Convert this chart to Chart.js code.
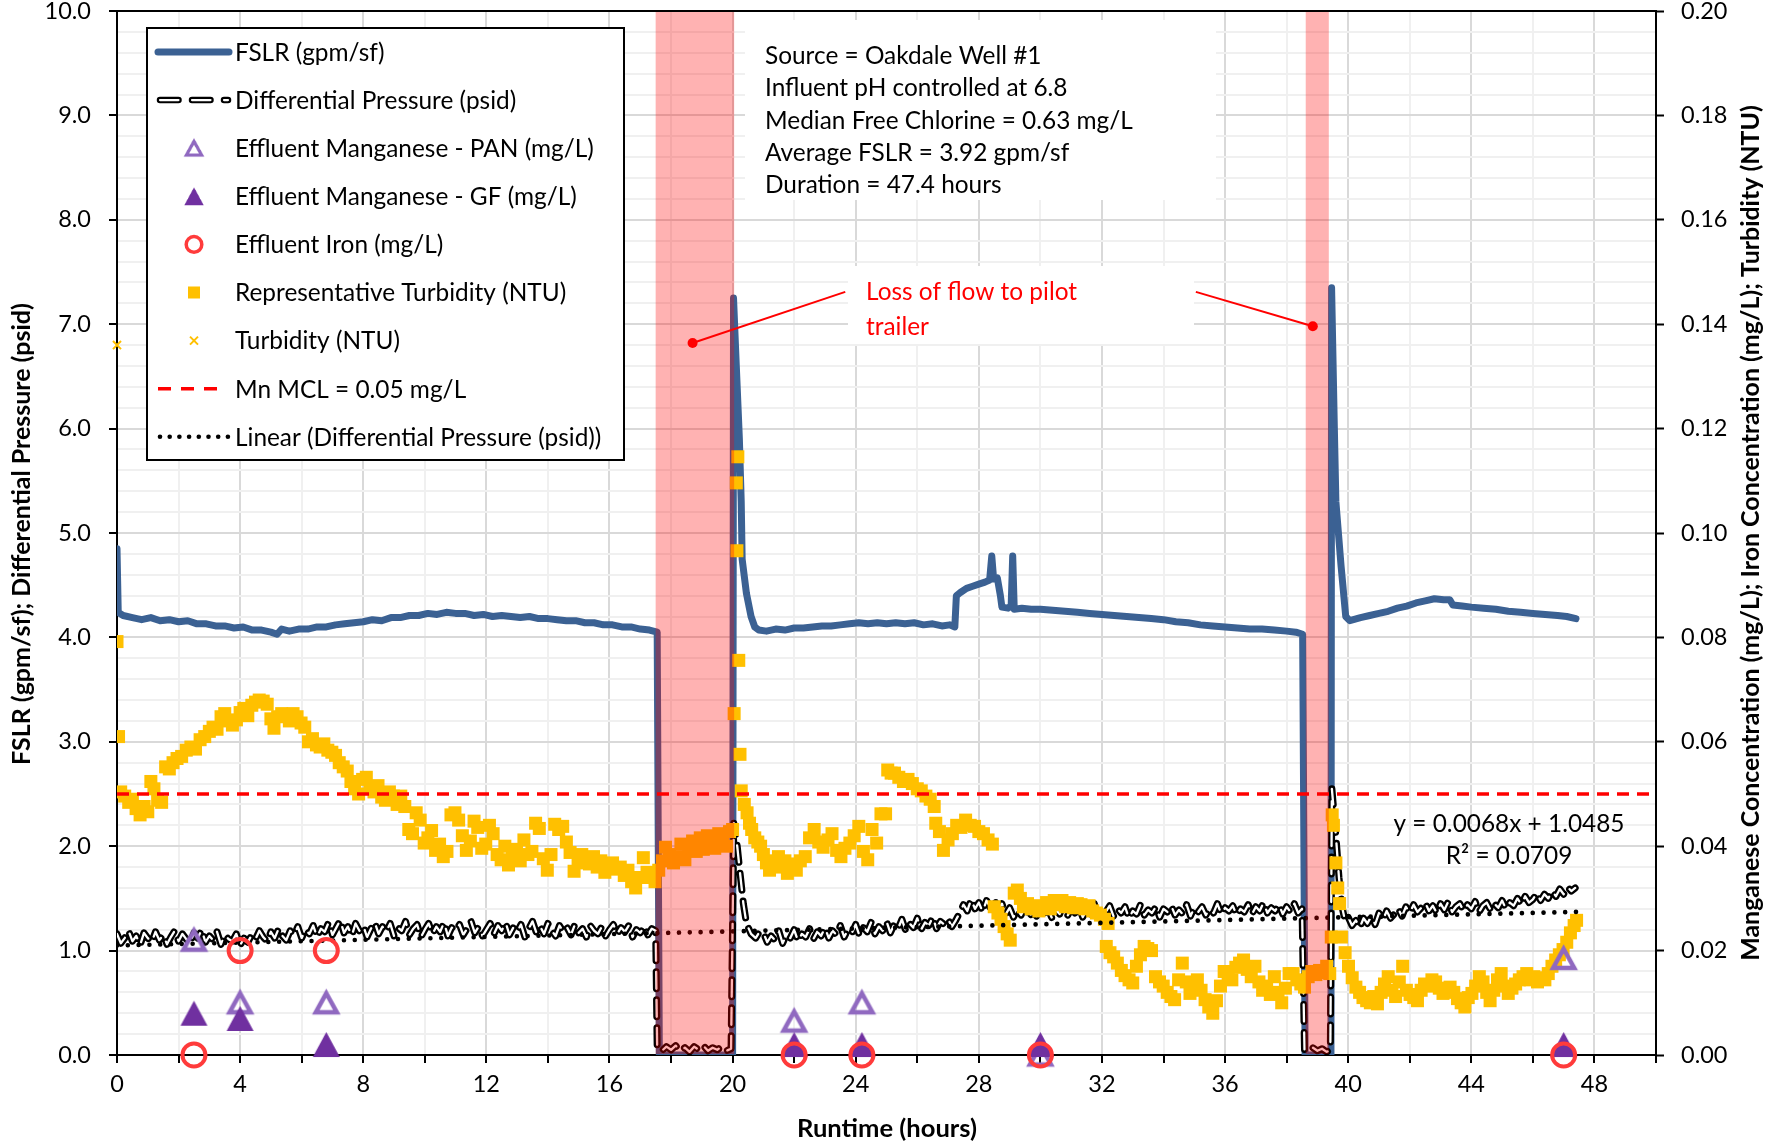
<!DOCTYPE html>
<html lang="en">
<head>
<meta charset="utf-8">
<title>Filter run – Oakdale Well #1</title>
<script src="https://cdn.jsdelivr.net/npm/chart.js@4.4.1/dist/chart.umd.min.js"></script>
<style>
  html, body { margin: 0; padding: 0; background: #ffffff; }
  #wrap { width: 1769px; height: 1147px; }
  canvas { display: block; }
</style>
</head>
<body>
<div id="wrap"><canvas id="runChart" width="1769" height="1147"></canvas></div>
<script>
// ---------------------------------------------------------------------------
// Run data
// ---------------------------------------------------------------------------

// Filter surface loading rate, gpm/sf
const fslrHours = [
  0, 0.04, 0.2, 0.5, 0.8, 1.1, 1.4, 1.7, 2.0, 2.3,
  2.6, 2.9, 3.2, 3.5, 3.8, 4.1, 4.4, 4.7, 5.0, 5.2,
  5.35, 5.6, 5.9, 6.2, 6.5, 6.8, 7.1, 7.4, 7.7, 8.0,
  8.3, 8.6, 8.9, 9.2, 9.5, 9.8, 10.1, 10.4, 10.7, 11.0,
  11.3, 11.6, 11.9, 12.2, 12.5, 12.8, 13.1, 13.4, 13.7, 14.0,
  14.3, 14.6, 14.9, 15.2, 15.5, 15.8, 16.1, 16.4, 16.7, 17.0,
  17.3, 17.55, 17.62, 18.8, 20.0, 20.03, 20.12, 20.22, 20.28, 20.31,
  20.45, 20.6, 20.72, 20.85, 21.1, 21.4, 21.7, 22.0, 22.3, 22.6,
  22.9, 23.2, 23.5, 23.8, 24.1, 24.4, 24.7, 25.0, 25.3, 25.6,
  25.9, 26.2, 26.5, 26.8, 27.05, 27.22, 27.27, 27.4, 27.6, 27.8,
  28.0, 28.2, 28.35, 28.42, 28.48, 28.6, 28.7, 28.75, 28.95, 29.05,
  29.1, 29.15, 29.4, 29.7, 30.0, 30.4, 30.8, 31.2, 31.6, 32.0,
  32.4, 32.8, 33.2, 33.6, 34.0, 34.4, 34.8, 35.2, 35.6, 36.0,
  36.4, 36.8, 37.2, 37.6, 38.0, 38.3, 38.52, 38.6, 39.0, 39.44,
  39.46, 39.55, 39.6, 39.77, 39.92, 40.05, 40.4, 40.7, 41.0, 41.3,
  41.6, 41.9, 42.2, 42.5, 42.8, 43.1, 43.3, 43.4, 43.7, 44.0,
  44.4, 44.8, 45.2, 45.6, 46.0, 46.4, 46.8, 47.1, 47.4
];
const fslrRate = [
  4.85, 4.24, 4.21, 4.19, 4.17, 4.19, 4.16, 4.17, 4.15, 4.16,
  4.13, 4.13, 4.11, 4.11, 4.09, 4.10, 4.07, 4.07, 4.05, 4.03,
  4.08, 4.06, 4.08, 4.08, 4.10, 4.10, 4.12, 4.13, 4.14, 4.15,
  4.17, 4.16, 4.19, 4.19, 4.21, 4.21, 4.23, 4.22, 4.24, 4.23,
  4.23, 4.21, 4.22, 4.20, 4.21, 4.20, 4.19, 4.20, 4.18, 4.18,
  4.17, 4.16, 4.16, 4.14, 4.14, 4.12, 4.12, 4.10, 4.10, 4.08,
  4.07, 4.05, 0, 0, 0, 7.25, 6.6, 5.9, 5.3, 4.75,
  4.42, 4.20, 4.10, 4.07, 4.06, 4.08, 4.07, 4.09, 4.09, 4.10,
  4.11, 4.11, 4.12, 4.13, 4.14, 4.13, 4.14, 4.13, 4.14, 4.13,
  4.14, 4.12, 4.13, 4.11, 4.12, 4.10, 4.40, 4.43, 4.47, 4.49,
  4.51, 4.53, 4.55, 4.78, 4.56, 4.57, 4.40, 4.29, 4.28, 4.30,
  4.78, 4.27, 4.28, 4.27, 4.27, 4.26, 4.25, 4.24, 4.23, 4.22,
  4.21, 4.20, 4.19, 4.18, 4.17, 4.15, 4.14, 4.12, 4.11, 4.10,
  4.09, 4.08, 4.08, 4.07, 4.06, 4.05, 4.03, 0, 0, 0,
  7.35, 6.0, 5.3, 4.68, 4.20, 4.16, 4.19, 4.21, 4.23, 4.25,
  4.28, 4.30, 4.33, 4.35, 4.37, 4.36, 4.36, 4.31, 4.30, 4.29,
  4.28, 4.27, 4.25, 4.24, 4.23, 4.22, 4.21, 4.20, 4.18
];

// Differential pressure, psid.
// Steady filtration stretches are logged every dpLogStep hours from the
// given start hour; the stops and restarts are listed point by point.
const dpLogStep = 0.125;
const dpRun1Start = 0;
const dpRun1 = [
  1.16, 1.07, 1.12, 1.19, 1.09, 1.14, 1.05, 1.17, 1.12, 1.08,
  1.18, 1.10, 1.15, 1.06, 1.13, 1.19, 1.09, 1.16, 1.11, 1.07,
  1.17, 1.12, 1.20, 1.08, 1.14, 1.10, 1.18, 1.06, 1.15, 1.11,
  1.09, 1.16, 1.05, 1.12, 1.08, 1.15, 1.11, 1.19, 1.13, 1.09,
  1.18, 1.12, 1.21, 1.14, 1.10, 1.19, 1.15, 1.23, 1.12, 1.20,
  1.16, 1.24, 1.13, 1.21, 1.18, 1.27, 1.15, 1.22, 1.29, 1.17,
  1.23, 1.14, 1.26, 1.19, 1.24, 1.13, 1.21, 1.27, 1.16, 1.23,
  1.18, 1.26, 1.14, 1.22, 1.19, 1.28, 1.15, 1.21, 1.25, 1.13,
  1.20, 1.26, 1.16, 1.23, 1.18, 1.27, 1.14, 1.22, 1.19, 1.25,
  1.15, 1.21, 1.28, 1.17, 1.23, 1.14, 1.20, 1.26, 1.16, 1.24,
  1.19, 1.27, 1.15, 1.22, 1.18, 1.25, 1.13, 1.21, 1.28, 1.17,
  1.23, 1.16, 1.26, 1.19, 1.14, 1.24, 1.18, 1.22, 1.15, 1.25,
  1.17, 1.21, 1.13, 1.24, 1.19, 1.16, 1.23, 1.14, 1.20, 1.25,
  1.16, 1.22, 1.18, 1.24, 1.13, 1.20, 1.17, 1.23, 1.15, 1.21,
  1.19
];
const dpStop1Hours = [
  17.55, 17.7, 17.85, 18.0, 18.15, 18.3, 18.45, 18.6, 18.75, 18.9,
  19.05, 19.2, 19.35, 19.5, 19.65, 19.8, 19.95, 20.04, 20.15, 20.25,
  20.35, 20.45, 20.6, 20.75, 20.875
];
const dpStop1 = [
  0.06, 0.04, 0.08, 0.05, 0.09, 0.04, 0.07, 0.03, 0.08, 0.05,
  0.09, 0.04, 0.07, 0.05, 0.08, 0.04, 0.06, 2.22, 2.00, 1.72,
  1.45, 1.26, 1.16, 1.12, 1.18
];
const dpRun2Start = 21.0;
const dpRun2 = [
  1.17, 1.08, 1.14, 1.10, 1.19, 1.07, 1.15, 1.12, 1.20, 1.09,
  1.16, 1.13, 1.21, 1.11, 1.18, 1.14, 1.22, 1.12, 1.19, 1.15,
  1.24, 1.13, 1.20, 1.17, 1.25, 1.14, 1.22, 1.18, 1.27, 1.16,
  1.23, 1.19, 1.28, 1.17, 1.25, 1.21, 1.30, 1.19, 1.26, 1.22,
  1.31, 1.20, 1.27, 1.24, 1.32, 1.21, 1.28, 1.25, 1.30, 1.23,
  1.29, 1.36, 1.44, 1.38, 1.49, 1.40, 1.46, 1.37, 1.48, 1.41,
  1.50, 1.39, 1.45, 1.35, 1.41, 1.32, 1.39, 1.34, 1.42, 1.31,
  1.38, 1.33, 1.43, 1.36, 1.40, 1.31, 1.39, 1.35, 1.44, 1.33,
  1.40, 1.36, 1.42, 1.32, 1.39, 1.35, 1.45, 1.34, 1.41, 1.37,
  1.43, 1.33, 1.40, 1.36, 1.42, 1.31, 1.38, 1.35, 1.44, 1.34,
  1.39, 1.36, 1.42, 1.32, 1.40, 1.37, 1.43, 1.34, 1.39, 1.35,
  1.44, 1.33, 1.41, 1.37, 1.42, 1.34, 1.40, 1.36, 1.45, 1.35,
  1.41, 1.38, 1.43, 1.34, 1.40, 1.37, 1.44, 1.35, 1.42, 1.38,
  1.46, 1.36, 1.41, 1.38, 1.44, 1.35, 1.42, 1.37, 1.45, 1.36,
  1.40
];
const dpStop2Hours = [38.58, 38.7, 38.85, 39.0, 39.15, 39.3, 39.42, 39.47, 39.6, 39.7, 39.8, 39.9];
const dpStop2 = [0.05, 0.03, 0.07, 0.04, 0.06, 0.03, 0.05, 2.55, 2.10, 1.70, 1.42, 1.28];
const dpRun3Start = 40.0;
const dpRun3 = [
  1.32, 1.24, 1.29, 1.22, 1.31, 1.26, 1.33, 1.25, 1.36, 1.29,
  1.38, 1.31, 1.35, 1.40, 1.33, 1.42, 1.36, 1.44, 1.37, 1.41,
  1.46, 1.38, 1.43, 1.36, 1.45, 1.39, 1.47, 1.37, 1.42, 1.45,
  1.38, 1.44, 1.40, 1.47, 1.37, 1.43, 1.46, 1.39, 1.45, 1.41,
  1.48, 1.40, 1.46, 1.43, 1.50, 1.44, 1.52, 1.46, 1.49, 1.55,
  1.48, 1.54, 1.50, 1.57, 1.52, 1.59, 1.54, 1.61, 1.57, 1.60
];

// Representative effluent turbidity, NTU
const turbHours = [
  0.00, 0.05, 0.12, 0.25, 0.38, 0.50, 0.62, 0.75, 0.88, 1.00,
  1.10, 1.20, 1.32, 1.45, 1.58, 1.70, 1.82, 1.95, 2.10, 2.25,
  2.40, 2.55, 2.70, 2.85, 3.00, 3.12, 3.25, 3.38, 3.50, 3.62,
  3.75, 3.88, 4.00, 4.12, 4.25, 4.38, 4.50, 4.62, 4.75, 4.88,
  5.00, 5.10, 5.22, 5.35, 5.48, 5.60, 5.72, 5.85, 5.98, 6.10,
  6.22, 6.35, 6.48, 6.60, 6.72, 6.85, 6.98, 7.10, 7.22, 7.35,
  7.48, 7.60, 7.72, 7.85, 7.98, 8.10, 8.22, 8.35, 8.48, 8.60,
  8.72, 8.85, 8.98, 9.10, 9.22, 9.35, 9.48, 9.60, 9.72, 9.85,
  9.98, 10.10, 10.22, 10.35, 10.48, 10.60, 10.72, 10.85, 10.98, 11.10,
  11.22, 11.35, 11.48, 11.60, 11.72, 11.85, 11.98, 12.10, 12.22, 12.35,
  12.48, 12.60, 12.72, 12.85, 12.98, 13.10, 13.22, 13.35, 13.48, 13.60,
  13.72, 13.85, 13.98, 14.10, 14.22, 14.35, 14.48, 14.60, 14.72, 14.85,
  14.98, 15.10, 15.22, 15.35, 15.48, 15.60, 15.72, 15.85, 15.98, 16.10,
  16.22, 16.35, 16.48, 16.60, 16.72, 16.85, 16.98, 17.10, 17.22, 17.35,
  17.48,
  17.60, 17.72, 17.82, 17.95, 18.08, 18.20, 18.32, 18.45, 18.58, 18.70,
  18.82, 18.95, 19.05, 19.18, 19.30, 19.42, 19.55, 19.68, 19.80, 19.90,
  20.00,
  20.05, 20.12, 20.14, 20.17, 20.20, 20.24, 20.28,
  20.38, 20.47, 20.55, 20.62, 20.72, 20.82, 20.91, 21.00, 21.10, 21.20,
  21.30, 21.40, 21.49, 21.60, 21.70, 21.78, 21.90, 22.00, 22.07, 22.20,
  22.36, 22.50, 22.65, 22.80, 22.94, 23.10, 23.23, 23.38, 23.52, 23.65,
  23.81, 23.95, 24.10, 24.25, 24.39, 24.53, 24.68, 24.82, 24.97, 25.04,
  25.15, 25.26, 25.40, 25.55, 25.70, 25.84, 26.00, 26.13, 26.28, 26.42,
  26.55, 26.60, 26.72, 26.85, 27.00, 27.14, 27.28, 27.42, 27.57, 27.72,
  27.86, 28.00, 28.15, 28.30, 28.44,
  28.50, 28.62, 28.72, 28.82, 28.92, 29.02, 29.15, 29.25, 29.35, 29.45,
  29.58, 29.70, 29.82, 29.95, 30.08, 30.20, 30.32, 30.45, 30.58, 30.70,
  30.82, 30.95, 31.08, 31.20, 31.32, 31.45, 31.58, 31.70, 31.82, 31.95,
  32.08, 32.20,
  32.14, 32.26, 32.38, 32.50, 32.63, 32.75, 32.88, 33.00, 33.12, 33.25,
  33.37, 33.49, 33.61, 33.74, 33.87, 33.99, 34.12, 34.24, 34.36, 34.49,
  34.61, 34.74, 34.86, 34.98, 35.10, 35.22, 35.35, 35.47, 35.60, 35.72,
  35.85, 35.97, 36.10, 36.22, 36.35, 36.47, 36.60, 36.72, 36.85, 36.97,
  37.10, 37.22, 37.35, 37.47, 37.60, 37.72, 37.84, 37.96, 38.08, 38.21,
  38.33, 38.46, 38.58,
  38.70, 38.82, 38.95, 39.07, 39.18, 39.30, 39.40,
  39.45, 39.48, 39.52, 39.60, 39.66, 39.72, 39.78, 39.90, 40.01, 40.13,
  40.25, 40.37, 40.48, 40.60, 40.72, 40.83, 40.95, 41.07, 41.18, 41.30,
  41.42, 41.54, 41.66, 41.77, 41.89, 42.01, 42.13, 42.25, 42.37, 42.48,
  42.60, 42.72, 42.84, 42.96, 43.08, 43.20, 43.31, 43.43, 43.55, 43.67,
  43.79, 43.90, 44.02, 44.14, 44.26, 44.38, 44.50, 44.61, 44.73, 44.85,
  44.97, 45.09, 45.20, 45.32, 45.44, 45.56, 45.68, 45.80, 45.91, 46.03,
  46.15, 46.27, 46.39, 46.50, 46.62, 46.74, 46.86, 46.98, 47.10, 47.22,
  47.34, 47.42
];
const turbNtu = [
  0.0792, 0.0610, 0.0504, 0.0496, 0.0484, 0.0490, 0.0472, 0.0460, 0.0476, 0.0466,
  0.0524, 0.0510, 0.0488, 0.0484, 0.0552, 0.0548, 0.0560, 0.0568, 0.0572, 0.0584,
  0.0590, 0.0586, 0.0604, 0.0610, 0.0620, 0.0628, 0.0624, 0.0648, 0.0654, 0.0640,
  0.0632, 0.0642, 0.0656, 0.0664, 0.0650, 0.0670, 0.0676, 0.0680, 0.0678, 0.0672,
  0.0644, 0.0626, 0.0648, 0.0654, 0.0650, 0.0640, 0.0654, 0.0648, 0.0636, 0.0628,
  0.0600, 0.0606, 0.0594, 0.0590, 0.0596, 0.0584, 0.0580, 0.0574, 0.0560, 0.0552,
  0.0544, 0.0524, 0.0510, 0.0500, 0.0528, 0.0532, 0.0512, 0.0504, 0.0516, 0.0494,
  0.0488, 0.0504, 0.0496, 0.0480, 0.0496, 0.0476, 0.0432, 0.0424, 0.0464, 0.0450,
  0.0406, 0.0416, 0.0430, 0.0392, 0.0404, 0.0380, 0.0390, 0.0460, 0.0464, 0.0450,
  0.0420, 0.0392, 0.0410, 0.0448, 0.0436, 0.0396, 0.0404, 0.0440, 0.0424, 0.0384,
  0.0374, 0.0400, 0.0364, 0.0380, 0.0394, 0.0372, 0.0412, 0.0384, 0.0390, 0.0444,
  0.0434, 0.0376, 0.0354, 0.0384, 0.0442, 0.0432, 0.0438, 0.0408, 0.0388, 0.0352,
  0.0368, 0.0384, 0.0374, 0.0366, 0.0380, 0.0360, 0.0372, 0.0350, 0.0364, 0.0368,
  0.0356, 0.0360, 0.0344, 0.0354, 0.0332, 0.0320, 0.0340, 0.0378, 0.0350, 0.0340,
  0.0332,
  0.0354, 0.0372, 0.0398, 0.0384, 0.0368, 0.0380, 0.0404, 0.0374, 0.0392, 0.0410,
  0.0390, 0.0416, 0.0394, 0.0420, 0.0408, 0.0396, 0.0424, 0.0412, 0.0400, 0.0428,
  0.0432,
  0.0654, 0.1096, 0.0966, 0.1146, 0.0756, 0.0576, 0.0506,
  0.0480, 0.0464, 0.0444, 0.0432, 0.0416, 0.0408, 0.0400, 0.0384, 0.0368, 0.0354,
  0.0372, 0.0364, 0.0380, 0.0360, 0.0372, 0.0348, 0.0366, 0.0358, 0.0354, 0.0372,
  0.0380, 0.0416, 0.0432, 0.0408, 0.0398, 0.0412, 0.0424, 0.0392, 0.0380, 0.0396,
  0.0406, 0.0420, 0.0438, 0.0390, 0.0374, 0.0432, 0.0406, 0.0462, 0.0462, 0.0546,
  0.0540, 0.0540, 0.0532, 0.0524, 0.0528, 0.0520, 0.0510, 0.0506, 0.0496, 0.0490,
  0.0476, 0.0444, 0.0428, 0.0392, 0.0412, 0.0424, 0.0440, 0.0436, 0.0450, 0.0440,
  0.0438, 0.0428, 0.0424, 0.0412, 0.0404,
  0.0284, 0.0272, 0.0260, 0.0246, 0.0232, 0.0220, 0.0310, 0.0316, 0.0300, 0.0284,
  0.0290, 0.0280, 0.0286, 0.0276, 0.0284, 0.0292, 0.0280, 0.0296, 0.0288, 0.0296,
  0.0284, 0.0292, 0.0282, 0.0290, 0.0288, 0.0280, 0.0286, 0.0276, 0.0272, 0.0268,
  0.0260, 0.0252,
  0.0208, 0.0196, 0.0188, 0.0176, 0.0162, 0.0152, 0.0144, 0.0138, 0.0170, 0.0192,
  0.0208, 0.0204, 0.0200, 0.0150, 0.0140, 0.0132, 0.0120, 0.0112, 0.0106, 0.0144,
  0.0176, 0.0140, 0.0118, 0.0132, 0.0144, 0.0124, 0.0106, 0.0092, 0.0080, 0.0104,
  0.0132, 0.0160, 0.0156, 0.0144, 0.0168, 0.0176, 0.0182, 0.0164, 0.0150, 0.0170,
  0.0140, 0.0124, 0.0132, 0.0116, 0.0150, 0.0120, 0.0100, 0.0128, 0.0156, 0.0156,
  0.0144, 0.0136, 0.0130,
  0.0150, 0.0160, 0.0154, 0.0162, 0.0158, 0.0170, 0.0156,
  0.0226, 0.0460, 0.0440, 0.0368, 0.0320, 0.0290, 0.0226, 0.0196, 0.0170, 0.0148,
  0.0130, 0.0120, 0.0110, 0.0104, 0.0100, 0.0112, 0.0098, 0.0120, 0.0136, 0.0150,
  0.0124, 0.0112, 0.0140, 0.0170, 0.0124, 0.0116, 0.0110, 0.0104, 0.0124, 0.0136,
  0.0132, 0.0144, 0.0140, 0.0128, 0.0118, 0.0124, 0.0130, 0.0120, 0.0108, 0.0100,
  0.0092, 0.0110, 0.0118, 0.0132, 0.0150, 0.0140, 0.0120, 0.0104, 0.0124, 0.0144,
  0.0156, 0.0132, 0.0118, 0.0128, 0.0136, 0.0144, 0.0150, 0.0156, 0.0144, 0.0150,
  0.0140, 0.0148, 0.0144, 0.0156, 0.0170, 0.0182, 0.0192, 0.0202, 0.0216, 0.0234,
  0.0248, 0.0258
];

// Raw turbidity reading shown on its own
const turbSpotHours = [0.0];
const turbSpotNtu = [0.136];

// Grab samples, mg/L
const sampleHours = [2.5, 4.0, 6.8, 22.0, 24.2, 30.0, 47.0];
const mnPan = [0.022, 0.010, 0.010, 0.0065, 0.010, 0.000, 0.0185];
const mnGf = [0.008, 0.007, 0.002, 0.002, 0.002, 0.002, 0.002];
const feTotal = [0.000, 0.020, 0.020, 0.000, 0.000, 0.000, 0.000];

// Manganese MCL, mg/L, drawn across the runtime axis
const mnMcl = 0.05;
const mclHours = [0, 50];

// Linear fit of differential pressure
const trendSlope = 0.0068;
const trendIntercept = 1.0485;
const trendR2 = 0.0709;
const trendHours = [0, 47.4];

// Periods with no flow to the pilot trailer (hours)
const outageWindows = [[17.5, 20.05], [38.62, 39.37]];

// Axis setup
const hourMax = 50, hourStep = 2, hourLabelStep = 4, hourLabelMax = 48;
const leftMax = 10, leftStep = 0.2;
const rightMax = 0.2, rightStep = 0.02;

const runNotes = [
  'Source = Oakdale Well #1',
  'Influent pH controlled at 6.8',
  'Median Free Chlorine = 0.63 mg/L',
  'Average FSLR = 3.92 gpm/sf',
  'Duration = 47.4 hours'
];
const outageNote = ['Loss of flow to pilot', 'trailer'];

const legendLabels = [
  'FSLR (gpm/sf)',
  'Differential Pressure (psid)',
  'Effluent Manganese - PAN (mg/L)',
  'Effluent Manganese - GF (mg/L)',
  'Effluent Iron (mg/L)',
  'Representative Turbidity (NTU)',
  'Turbidity (NTU)',
  'Mn MCL = 0.05 mg/L',
  'Linear (Differential Pressure (psid))'
];

const titleLeft = 'FSLR (gpm/sf); Differential Pressure (psid)';
const titleRight = 'Manganese Concentration (mg/L); Iron Concentration (mg/L); Turbidity (NTU)';
const titleBottom = 'Runtime (hours)';

// ---------------------------------------------------------------------------
// Styling
// ---------------------------------------------------------------------------
const FONT = 'Lato';
const TICK_PX = 23.5;
const BLUE = '#3B6193';
const YELLOW = '#FFC000';
const PAN_PURPLE = '#9069C0';
const GF_PURPLE = '#7030A0';
const IRON_RED = '#FF3B3B';
const GRID_MAJOR = '#D9D9D9';
const GRID_MINOR = '#F0F0F0';
const DP_DASH = [17, 11];

const pts = (xs, ys) => xs.map((x, i) => ({ x, y: ys[i] }));
const logged = (start, values) => values.map((v, i) => ({ x: start + i * dpLogStep, y: v }));
const isWhole = v => Math.abs(v - Math.round(v)) < 1e-6;

function triangleMarker(w, h, fill, stroke, lw) {
  const pad = (lw || 0) * 2 + 2;
  const c = document.createElement('canvas');
  c.width = Math.ceil(w + 2 * pad);
  c.height = Math.ceil(h + 2 * pad);
  const g = c.getContext('2d');
  const cx = c.width / 2, cy = c.height / 2;
  g.beginPath();
  g.moveTo(cx, cy - h / 2);
  g.lineTo(cx + w / 2, cy + h / 2);
  g.lineTo(cx - w / 2, cy + h / 2);
  g.closePath();
  if (fill) { g.fillStyle = fill; g.fill(); }
  if (stroke) { g.lineJoin = 'miter'; g.lineWidth = lw; g.strokeStyle = stroke; g.stroke(); }
  return c;
}
const panMarker = triangleMarker(21, 19, null, PAN_PURPLE, 4.5);
const gfMarker = triangleMarker(27, 25, GF_PURPLE, null, 0);

// ---------------------------------------------------------------------------
// Drawing helpers for the overlays
// ---------------------------------------------------------------------------
function fitSize(ctx, text, weight, target) {
  ctx.font = `${weight} 100px ${FONT}`;
  return 100 * target / ctx.measureText(text).width;
}

function drawLegend(ctx, bodyPx) {
  const box = { x: 147, y: 28, w: 477, h: 432 };
  const rowY0 = 52, rowH = 48.1, symX0 = 158, symX1 = 229, markX = 194, textX = 235;
  ctx.save();
  ctx.fillStyle = '#ffffff';
  ctx.fillRect(box.x, box.y, box.w, box.h);
  ctx.strokeStyle = '#000000';
  ctx.lineWidth = 2;
  ctx.strokeRect(box.x, box.y, box.w, box.h);

  const rows = legendLabels.map((_, i) => rowY0 + i * rowH);

  // FSLR line
  ctx.beginPath();
  ctx.moveTo(symX0, rows[0]); ctx.lineTo(symX1, rows[0]);
  ctx.strokeStyle = BLUE; ctx.lineWidth = 7; ctx.lineCap = 'round';
  ctx.stroke();

  // differential pressure: outlined dashes
  ctx.setLineDash([18.5, 13.5]);
  ctx.lineCap = 'round';
  ctx.beginPath(); ctx.moveTo(160, rows[1]); ctx.lineTo(228, rows[1]);
  ctx.strokeStyle = '#000'; ctx.lineWidth = 6.5; ctx.stroke();
  ctx.beginPath(); ctx.moveTo(160, rows[1]); ctx.lineTo(228, rows[1]);
  ctx.strokeStyle = '#fff'; ctx.lineWidth = 2.2; ctx.stroke();
  ctx.setLineDash([]);

  // sample markers (drawn a little smaller than on the plot)
  const s = 0.72;
  ctx.drawImage(panMarker, markX - panMarker.width * s / 2, rows[2] - panMarker.height * s / 2, panMarker.width * s, panMarker.height * s);
  ctx.drawImage(gfMarker, markX - gfMarker.width * s / 2, rows[3] - gfMarker.height * s / 2, gfMarker.width * s, gfMarker.height * s);
  ctx.beginPath(); ctx.arc(markX, rows[4], 7.8, 0, Math.PI * 2);
  ctx.strokeStyle = IRON_RED; ctx.lineWidth = 3.5; ctx.stroke();

  ctx.fillStyle = YELLOW;
  ctx.fillRect(markX - 6, rows[5] - 6, 12, 12);

  ctx.beginPath();
  ctx.moveTo(markX - 4, rows[6] - 4); ctx.lineTo(markX + 4, rows[6] + 4);
  ctx.moveTo(markX + 4, rows[6] - 4); ctx.lineTo(markX - 4, rows[6] + 4);
  ctx.strokeStyle = YELLOW; ctx.lineWidth = 2; ctx.lineCap = 'butt'; ctx.stroke();

  // MCL dashes
  ctx.setLineDash([13, 10]);
  ctx.beginPath(); ctx.moveTo(symX0, rows[7]); ctx.lineTo(symX1 - 10, rows[7]);
  ctx.strokeStyle = '#FF0000'; ctx.lineWidth = 3.5; ctx.stroke();
  ctx.setLineDash([]);

  // trend dots
  ctx.fillStyle = '#000';
  for (let i = 0; i < 8; i++) {
    ctx.beginPath(); ctx.arc(160 + i * 9.7, rows[8], 2.3, 0, Math.PI * 2); ctx.fill();
  }

  ctx.fillStyle = '#000';
  ctx.font = `${bodyPx}px ${FONT}`;
  ctx.textAlign = 'left';
  ctx.textBaseline = 'middle';
  legendLabels.forEach((t, i) => ctx.fillText(t, textX, rows[i] + 1));
  ctx.restore();
}

const overlays = {
  id: 'overlays',
  beforeDraw(chart) {
    const { ctx, width, height } = chart;
    ctx.save();
    ctx.fillStyle = '#ffffff';
    ctx.fillRect(0, 0, width, height);
    ctx.restore();
  },
  afterDatasetsDraw(chart) {
    const { ctx, chartArea: a, scales } = chart;
    const x = scales.x, y = scales.y;
    const bodyPx = fitSize(ctx, runNotes[2], 'normal', 368);

    ctx.save();
    // outage shading over the data
    ctx.fillStyle = 'rgba(255, 0, 0, 0.3)';
    outageWindows.forEach(([s, e]) => {
      const x0 = x.getPixelForValue(s), x1 = x.getPixelForValue(e);
      ctx.fillRect(x0, a.top, x1 - x0, a.bottom - a.top - 1);
    });

    // run notes
    ctx.fillStyle = '#ffffff';
    ctx.fillRect(745, 20, 471, 180);
    ctx.fillStyle = '#000000';
    ctx.font = `${bodyPx}px ${FONT}`;
    ctx.textAlign = 'left';
    ctx.textBaseline = 'middle';
    runNotes.forEach((t, i) => ctx.fillText(t, 765, 56 + i * 32.4));

    // outage callout
    ctx.fillStyle = '#ffffff';
    ctx.fillRect(848, 266, 346, 78);
    ctx.fillStyle = '#FF0000';
    outageNote.forEach((t, i) => ctx.fillText(t, 866, 292 + i * 35.5));
    const leaders = [[23.66, 7.31, 18.7, 6.82], [35.05, 7.31, 38.85, 6.98]];
    ctx.strokeStyle = '#FF0000';
    ctx.lineWidth = 2;
    leaders.forEach(([h0, v0, h1, v1]) => {
      const px0 = x.getPixelForValue(h0), py0 = y.getPixelForValue(v0);
      const px1 = x.getPixelForValue(h1), py1 = y.getPixelForValue(v1);
      ctx.beginPath(); ctx.moveTo(px0, py0); ctx.lineTo(px1, py1); ctx.stroke();
      ctx.beginPath(); ctx.arc(px1, py1, 5, 0, Math.PI * 2); ctx.fill();
    });

    // trendline label
    ctx.fillStyle = '#000000';
    ctx.textAlign = 'center';
    ctx.fillText(`y = ${trendSlope.toFixed(4)}x + ${trendIntercept.toFixed(4)}`, 1509, 824);
    ctx.fillText(`R\u00B2 = ${trendR2.toFixed(4)}`, 1509, 856);

    // top edge of the plot frame
    ctx.strokeStyle = '#000';
    ctx.lineWidth = 2;
    ctx.beginPath(); ctx.moveTo(a.left, a.top); ctx.lineTo(a.right, a.top); ctx.stroke();
    ctx.restore();

    drawLegend(ctx, bodyPx);
  },
  afterDraw(chart) {
    const { ctx } = chart;
    ctx.save();
    ctx.fillStyle = '#000';
    ctx.textAlign = 'center';
    ctx.textBaseline = 'middle';

    const lp = fitSize(ctx, titleLeft, 'bold', 462);
    ctx.font = `bold ${lp}px ${FONT}`;
    ctx.save(); ctx.translate(22, 534); ctx.rotate(-Math.PI / 2); ctx.fillText(titleLeft, 0, 0); ctx.restore();

    const rp = fitSize(ctx, titleRight, 'bold', 856);
    ctx.font = `bold ${rp}px ${FONT}`;
    ctx.save(); ctx.translate(1751, 533); ctx.rotate(-Math.PI / 2); ctx.fillText(titleRight, 0, 0); ctx.restore();

    const bp = fitSize(ctx, titleBottom, 'bold', 180);
    ctx.font = `bold ${bp}px ${FONT}`;
    ctx.fillText(titleBottom, 887, 1129);
    ctx.restore();
  }
};

// ---------------------------------------------------------------------------
// Chart
// ---------------------------------------------------------------------------
Chart.defaults.font.family = FONT;
Chart.defaults.color = '#000';

const dpPoints = [
  ...logged(dpRun1Start, dpRun1),
  ...pts(dpStop1Hours, dpStop1),
  ...logged(dpRun2Start, dpRun2),
  ...pts(dpStop2Hours, dpStop2),
  ...logged(dpRun3Start, dpRun3)
];

new Chart(document.getElementById('runChart'), {
  type: 'scatter',
  data: {
    datasets: [
      {
        label: legendLabels[4], data: pts(sampleHours, feTotal), yAxisID: 'y2',
        pointStyle: 'circle', pointRadius: 11.5, pointBorderWidth: 4,
        pointBorderColor: IRON_RED, pointBackgroundColor: 'rgba(0,0,0,0)',
        clip: false, order: 1
      },
      {
        label: legendLabels[3], data: pts(sampleHours, mnGf), yAxisID: 'y2',
        pointStyle: gfMarker, pointRadius: 13, clip: false, order: 2
      },
      {
        label: legendLabels[2], data: pts(sampleHours, mnPan), yAxisID: 'y2',
        pointStyle: panMarker, pointRadius: 13, clip: false, order: 3
      },
      {
        label: legendLabels[6], data: pts(turbSpotHours, turbSpotNtu), yAxisID: 'y2',
        pointStyle: 'crossRot', pointRadius: 5.7, pointBorderWidth: 2,
        pointBorderColor: YELLOW, clip: false, order: 4
      },
      {
        label: legendLabels[7], data: mclHours.map(h => ({ x: h, y: mnMcl })), yAxisID: 'y2',
        showLine: true, borderColor: '#FF0000', borderWidth: 3.5, borderDash: [12, 8],
        pointRadius: 0, order: 5
      },
      {
        label: legendLabels[8],
        data: trendHours.map(h => ({ x: h, y: trendSlope * h + trendIntercept })), yAxisID: 'y',
        showLine: true, borderColor: '#000', borderWidth: 4.6, borderDash: [0.01, 10.8],
        borderCapStyle: 'round', pointRadius: 0, order: 6
      },
      {
        label: legendLabels[5], data: pts(turbHours, turbNtu), yAxisID: 'y2',
        pointStyle: 'rect', pointRadius: 9.2, pointBorderWidth: 0,
        pointBackgroundColor: YELLOW, pointBorderColor: YELLOW, order: 7
      },
      {
        label: 'dp-core', data: dpPoints, yAxisID: 'y',
        showLine: true, borderColor: '#ffffff', borderWidth: 2.3, borderDash: DP_DASH,
        borderCapStyle: 'round', borderJoinStyle: 'round', pointRadius: 0, order: 8
      },
      {
        label: legendLabels[1], data: dpPoints, yAxisID: 'y',
        showLine: true, borderColor: '#000000', borderWidth: 7, borderDash: DP_DASH,
        borderCapStyle: 'round', borderJoinStyle: 'round', pointRadius: 0, order: 9
      },
      {
        label: legendLabels[0], data: pts(fslrHours, fslrRate), yAxisID: 'y',
        showLine: true, borderColor: BLUE, borderWidth: 7,
        borderCapStyle: 'round', borderJoinStyle: 'round', pointRadius: 0, order: 10
      }
    ]
  },
  options: {
    responsive: false,
    maintainAspectRatio: false,
    devicePixelRatio: 1,
    animation: false,
    events: [],
    layout: { autoPadding: false, padding: { top: 11, left: 0, right: 0, bottom: 0 } },
    plugins: { legend: { display: false }, tooltip: { enabled: false } },
    scales: {
      x: {
        type: 'linear', position: 'bottom', min: 0, max: hourMax,
        ticks: {
          stepSize: hourStep, autoSkip: false, maxRotation: 0, padding: 7,
          font: { size: TICK_PX }, color: '#000',
          callback: v => (v % hourLabelStep === 0 && v <= hourLabelMax) ? String(v) : ''
        },
        grid: {
          color: c => (c.tick && c.tick.value % hourLabelStep === 0) ? GRID_MAJOR : GRID_MINOR,
          lineWidth: 2, tickLength: 8, tickColor: '#000', tickWidth: 2
        },
        border: { color: '#000', width: 2 },
        afterFit: s => { s.height = 92; s.paddingLeft = 0; s.paddingRight = 0; }
      },
      y: {
        type: 'linear', position: 'left', min: 0, max: leftMax,
        ticks: {
          stepSize: leftStep, autoSkip: false, padding: 18,
          font: { size: TICK_PX }, color: '#000',
          callback: v => isWhole(v) ? v.toFixed(1) : ''
        },
        grid: {
          color: c => (c.tick && isWhole(c.tick.value)) ? GRID_MAJOR : GRID_MINOR,
          lineWidth: 2, tickLength: 8, tickWidth: 2,
          tickColor: c => (c.tick && isWhole(c.tick.value)) ? '#000' : 'rgba(0,0,0,0)'
        },
        border: { color: '#000', width: 2 },
        afterFit: s => { s.width = 117; s.paddingTop = 0; s.paddingBottom = 0; }
      },
      y2: {
        type: 'linear', position: 'right', min: 0, max: rightMax,
        ticks: {
          stepSize: rightStep, autoSkip: false, padding: 17,
          font: { size: TICK_PX }, color: '#000',
          callback: v => v.toFixed(2)
        },
        grid: { drawOnChartArea: false, tickLength: 8, tickColor: '#000', tickWidth: 2 },
        border: { color: '#000', width: 2 },
        afterFit: s => { s.width = 113; s.paddingTop = 0; s.paddingBottom = 0; }
      }
    }
  },
  plugins: [overlays]
});
</script>
</body>
</html>
